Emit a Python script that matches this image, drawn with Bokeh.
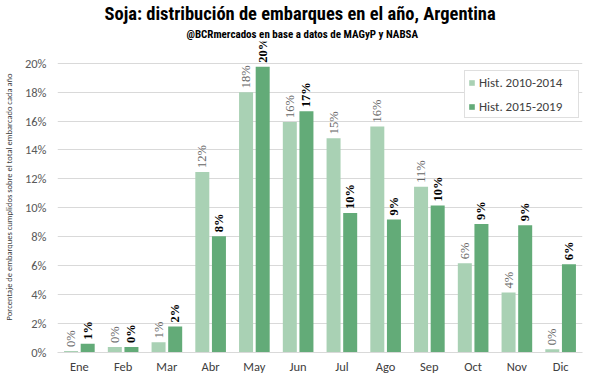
import math
from bokeh.plotting import figure
from bokeh.models import (ColumnDataSource, FactorRange, Range1d, LabelSet, Legend,
                          LegendItem, PrintfTickFormatter, FixedTicker, Title)
from bokeh.transform import dodge
from bokeh.embed import file_html
from bokeh.resources import INLINE

months = ["Ene", "Feb", "Mar", "Abr", "May", "Jun", "Jul", "Ago", "Sep", "Oct", "Nov", "Dic"]
hist_2010_2014 = [0.10, 0.38, 0.71, 12.48, 18.00, 15.93, 14.81, 15.62, 11.45, 6.17, 4.15, 0.22]
hist_2015_2019 = [0.60, 0.38, 1.79, 8.03, 19.75, 16.67, 9.65, 9.20, 10.17, 8.89, 8.80, 6.10]
y_ticks = [0, 2, 4, 6, 8, 10, 12, 14, 16, 18, 20]

series_names = ["Hist. 2010-2014", "Hist. 2015-2019"]
title_text = "Soja: distribución de embarques en el año, Argentina"
subtitle_text = "@BCRmercados en base a datos de MAGyP y NABSA"
y_label = "Porcentaje de embarques cumplidos sobre el total embarcado cada año"

LIGHT = "#A9D1B4"
DARK = "#63AB78"
FONT = "Carlito"
TFONT = "Roboto Condensed"

src = ColumnDataSource(dict(
    months=months,
    a=hist_2010_2014,
    b=hist_2015_2019,
    la=[f"{round(v)}%" for v in hist_2010_2014],
    lb=[f"{round(v)}%" for v in hist_2015_2019],
))

p = figure(x_range=FactorRange(*months), y_range=Range1d(0, 21.5),
           width=584, height=376, output_backend="svg", toolbar_location=None,
           min_border_left=52, min_border_right=2, min_border_bottom=21, min_border_top=0)

p.title.text = title_text
p.title.align = "left"
p.title.text_font = TFONT
p.title.text_font_size = "18.5px"
p.title.text_font_style = "bold"
p.title.text_color = "#000000"
p.title.standoff = 0
p.title.offset = 47

p.add_layout(Title(text=subtitle_text, align="left", text_font=TFONT,
                   text_font_size="11px", text_font_style="bold", text_color="#000000",
                   standoff=2, offset=129), "above")

off = 0.19
w = 0.32
r1 = p.vbar(x=dodge("months", -off, range=p.x_range), top="a", width=w, source=src,
            fill_color=LIGHT, line_color=None)
r2 = p.vbar(x=dodge("months", off, range=p.x_range), top="b", width=w, source=src,
            fill_color=DARK, line_color=None)

lab1 = LabelSet(x=dodge("months", -off, range=p.x_range), y="a", text="la", source=src,
                angle=math.pi / 2, text_align="left", text_baseline="middle", y_offset=4,
                text_font=FONT, text_font_size="12.5px", text_color="#666666")
lab2 = LabelSet(x=dodge("months", off, range=p.x_range), y="b", text="lb", source=src,
                angle=math.pi / 2, text_align="left", text_baseline="middle", y_offset=4,
                text_font=FONT, text_font_size="12.5px", text_color="#000000",
                text_font_style="bold")
p.add_layout(lab1)
p.add_layout(lab2)

# axes
p.yaxis.ticker = FixedTicker(ticks=y_ticks)
p.yaxis.formatter = PrintfTickFormatter(format="%d%%")
p.yaxis.axis_line_color = None
p.yaxis.major_tick_line_color = None
p.yaxis.minor_tick_line_color = None
p.yaxis.major_tick_out = 0
p.yaxis.major_tick_in = 0
p.yaxis.minor_tick_out = 0
p.yaxis.major_label_standoff = 11
p.yaxis.major_label_text_font = FONT
p.yaxis.major_label_text_font_size = "12.5px"
p.yaxis.major_label_text_color = "#595959"
p.yaxis.axis_label = y_label
p.yaxis.axis_label_text_font = FONT
p.yaxis.axis_label_text_font_size = "8.5px"
p.yaxis.axis_label_text_font_style = "normal"
p.yaxis.axis_label_text_color = "#404040"
p.yaxis.axis_label_standoff = 8

p.xaxis.axis_line_color = "#D9D9D9"
p.xaxis.major_tick_line_color = None
p.xaxis.minor_tick_line_color = None
p.xaxis.major_tick_out = 0
p.xaxis.major_tick_in = 0
p.xaxis.minor_tick_out = 0
p.xaxis.major_label_standoff = 6
p.xaxis.major_label_text_font = FONT
p.xaxis.major_label_text_font_size = "12.5px"
p.xaxis.major_label_text_color = "#404040"

p.xgrid.grid_line_color = None
p.ygrid.grid_line_color = "#D9D9D9"
p.outline_line_color = None
p.x_range.range_padding = 0

legend = Legend(items=[LegendItem(label=series_names[0], renderers=[r1]),
                       LegendItem(label=series_names[1], renderers=[r2])],
                location=(407, 234), orientation="vertical",
                glyph_width=7, glyph_height=7, label_height=16, spacing=8,
                padding=3, margin=0, label_standoff=4, label_width=96,
                label_text_font=FONT, label_text_font_size="13px",
                label_text_color="#404040",
                border_line_color="#BFBFBF", border_line_width=1,
                background_fill_color="white", background_fill_alpha=1)
p.add_layout(legend)

open("out.html", "w").write(file_html(p, INLINE))
